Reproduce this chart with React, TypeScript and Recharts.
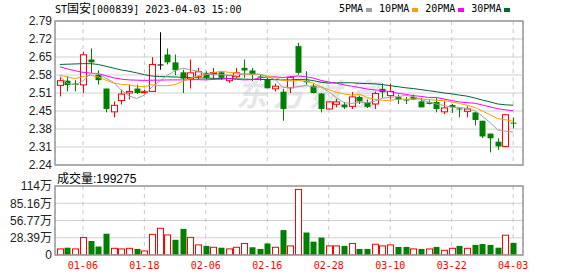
import React from "react";
import {
  ComposedChart,
  BarChart,
  Bar,
  Line,
  XAxis,
  YAxis,
  CartesianGrid,
} from "recharts";

const dates = [
  "01-03", "01-04", "01-05", "01-06", "01-09", "01-10", "01-11", "01-12", "01-13", "01-16",
  "01-17", "01-18", "01-19", "01-20", "01-30", "01-31", "02-01", "02-02", "02-03", "02-06",
  "02-07", "02-08", "02-09", "02-10", "02-13", "02-14", "02-15", "02-16", "02-17", "02-20",
  "02-21", "02-22", "02-23", "02-24", "02-27", "02-28", "03-01", "03-02", "03-03", "03-06",
  "03-07", "03-08", "03-09", "03-10", "03-13", "03-14", "03-15", "03-16", "03-17", "03-20",
  "03-21", "03-22", "03-23", "03-24", "03-27", "03-28", "03-29", "03-30", "03-31", "04-03",
];

const opens = [
  2.544, 2.562, 2.551, 2.546, 2.643, 2.585, 2.532, 2.443, 2.486, 2.515,
  2.532, 2.517, 2.521, 2.624, 2.662, 2.632, 2.594, 2.569, 2.579, 2.592,
  2.589, 2.594, 2.562, 2.577, 2.611, 2.601, 2.578, 2.569, 2.531, 2.52,
  2.535, 2.694, 2.562, 2.543, 2.513, 2.454, 2.472, 2.471, 2.464, 2.5,
  2.479, 2.473, 2.531, 2.505, 2.499, 2.49, 2.5, 2.483, 2.479, 2.481,
  2.443, 2.469, 2.456, 2.445, 2.441, 2.409, 2.36, 2.329, 2.311, 2.402,
];
const highs = [
  2.575, 2.579, 2.564, 2.673, 2.685, 2.601, 2.532, 2.483, 2.528, 2.547,
  2.547, 2.528, 2.652, 2.747, 2.685, 2.662, 2.604, 2.643, 2.611, 2.598,
  2.611, 2.598, 2.582, 2.611, 2.643, 2.611, 2.583, 2.572, 2.551, 2.531,
  2.58, 2.707, 2.598, 2.551, 2.515, 2.483, 2.492, 2.481, 2.519, 2.505,
  2.49, 2.521, 2.551, 2.551, 2.509, 2.5, 2.509, 2.496, 2.487, 2.496,
  2.483, 2.473, 2.457, 2.464, 2.443, 2.409, 2.36, 2.342, 2.433, 2.421,
];
const lows = [
  2.502, 2.521, 2.521, 2.515, 2.592, 2.547, 2.441, 2.422, 2.471, 2.49,
  2.511, 2.513, 2.521, 2.604, 2.624, 2.583, 2.515, 2.532, 2.566, 2.566,
  2.566, 2.564, 2.554, 2.573, 2.573, 2.56, 2.562, 2.533, 2.521, 2.409,
  2.515, 2.585, 2.547, 2.513, 2.441, 2.452, 2.46, 2.454, 2.454, 2.473,
  2.458, 2.454, 2.496, 2.49, 2.473, 2.473, 2.488, 2.46, 2.471, 2.441,
  2.434, 2.439, 2.422, 2.422, 2.391, 2.343, 2.288, 2.298, 2.31, 2.38,
];
const closes = [
  2.562, 2.545, 2.546, 2.661, 2.632, 2.564, 2.454, 2.468, 2.511, 2.521,
  2.515, 2.52, 2.624, 2.624, 2.632, 2.602, 2.57, 2.592, 2.596, 2.573,
  2.593, 2.573, 2.582, 2.592, 2.601, 2.585, 2.574, 2.533, 2.541, 2.454,
  2.575, 2.592, 2.556, 2.515, 2.454, 2.481, 2.481, 2.46, 2.5, 2.483,
  2.462, 2.513, 2.518, 2.521, 2.49, 2.487, 2.49, 2.46, 2.473, 2.454,
  2.458, 2.46, 2.454, 2.454, 2.412, 2.349, 2.342, 2.311, 2.432, 2.398,
];

// 成交量, 单位: 万
const volumes = [
  10, 12, 10, 28.7, 23, 14, 35, 11, 10, 11,
  10, 6.6, 34, 44, 33, 25, 43, 29, 16.6, 15,
  12.7, 12, 10, 12.7, 19, 12.7, 10, 19, 12.7, 41,
  15, 108, 37, 22, 28.7, 15, 15, 15, 19, 10,
  10, 17.7, 15, 16.6, 13.3, 13.3, 10, 10, 10, 13.3,
  7.7, 11, 15, 11, 16.6, 18, 16.6, 12, 32.6, 19.93,
];

const ma5 = [
  2.579, 2.551, 2.547, 2.56, 2.589, 2.589, 2.571, 2.556, 2.526, 2.504,
  2.494, 2.507, 2.538, 2.561, 2.583, 2.6, 2.61, 2.604, 2.598, 2.587,
  2.585, 2.585, 2.583, 2.583, 2.588, 2.587, 2.587, 2.577, 2.567, 2.537,
  2.535, 2.539, 2.544, 2.538, 2.538, 2.52, 2.497, 2.478, 2.475, 2.481,
  2.477, 2.484, 2.495, 2.499, 2.501, 2.506, 2.501, 2.49, 2.48, 2.473,
  2.467, 2.461, 2.46, 2.456, 2.448, 2.426, 2.402, 2.374, 2.369, 2.366,
];
const ma10 = [
  2.583, 2.576, 2.57, 2.578, 2.583, 2.576, 2.564, 2.553, 2.548, 2.546,
  2.541, 2.539, 2.547, 2.543, 2.543, 2.547, 2.559, 2.571, 2.58, 2.585,
  2.593, 2.598, 2.594, 2.591, 2.587, 2.586, 2.586, 2.58, 2.575, 2.563,
  2.561, 2.563, 2.56, 2.553, 2.538, 2.528, 2.518, 2.511, 2.507, 2.51,
  2.498, 2.491, 2.487, 2.487, 2.491, 2.492, 2.492, 2.492, 2.49, 2.487,
  2.486, 2.481, 2.475, 2.468, 2.46, 2.446, 2.432, 2.417, 2.413, 2.407,
];
const ma20 = [
  2.615, 2.607, 2.6, 2.594, 2.591, 2.589, 2.581, 2.573, 2.568, 2.565,
  2.564, 2.563, 2.564, 2.564, 2.565, 2.565, 2.565, 2.566, 2.566, 2.565,
  2.567, 2.568, 2.57, 2.567, 2.565, 2.566, 2.572, 2.576, 2.577, 2.574,
  2.577, 2.58, 2.577, 2.572, 2.563, 2.557, 2.552, 2.546, 2.541, 2.536,
  2.53, 2.527, 2.524, 2.52, 2.514, 2.51, 2.505, 2.502, 2.498, 2.498,
  2.492, 2.486, 2.481, 2.478, 2.476, 2.469, 2.462, 2.455, 2.451, 2.447,
];
const ma30 = [
  2.624, 2.625, 2.626, 2.627, 2.627, 2.624, 2.617, 2.61, 2.603, 2.598,
  2.592, 2.585, 2.58, 2.578, 2.577, 2.576, 2.575, 2.574, 2.573, 2.572,
  2.571, 2.57, 2.57, 2.569, 2.568, 2.567, 2.567, 2.566, 2.566, 2.565,
  2.565, 2.567, 2.567, 2.562, 2.556, 2.553, 2.554, 2.554, 2.554, 2.552,
  2.551, 2.55, 2.547, 2.543, 2.539, 2.535, 2.532, 2.528, 2.524, 2.52,
  2.515, 2.512, 2.507, 2.503, 2.496, 2.488, 2.481, 2.473, 2.47, 2.468,
];

const dateTicks = ["01-06", "01-18", "02-06", "02-16", "02-28", "03-10", "03-22", "04-03"];
const priceTickLabels = ["2.24", "2.31", "2.38", "2.45", "2.51", "2.58", "2.65", "2.72", "2.79"];
const volTickLabels = ["0", "28.39万", "56.77万", "85.16万", "114万"];

const PRICE_MIN = 2.24;
const PRICE_MAX = 2.79;
const VOL_MAX = 113.55;
const priceTicks = priceTickLabels.map((_, i) => PRICE_MIN + (i * (PRICE_MAX - PRICE_MIN)) / 8);
const volTicks = volTickLabels.map((_, i) => (i * VOL_MAX) / 4);

const RED = "#ff0000";
const GREEN = "#008000";
const MA_COLORS = { ma5: "#a0a0a0", ma10: "#f5a300", ma20: "#ff00ff", ma30: "#006633" };

const data = dates.map((date, i) => ({
  date,
  open: opens[i],
  high: highs[i],
  low: lows[i],
  close: closes[i],
  vol: volumes[i],
  volUp: i === 0 || closes[i] >= closes[i - 1],
  ma5: ma5[i],
  ma10: ma10[i],
  ma20: ma20[i],
  ma30: ma30[i],
}));

const W = 578;
const PLOT_LEFT = 55;
const PLOT_RIGHT_GAP = 55;
const xPadding = { left: 1, right: 6 };
const axisFont = "'Liberation Sans', Arial, 'Noto Sans CJK SC', sans-serif";
const monoFont = "'DejaVu Sans Mono', 'Noto Sans CJK SC', monospace";

function Candle(props: any) {
  const { x, y, width, height, payload } = props;
  const { open, close, high, low } = payload;
  const top = Math.min(y, y + height);
  const h = Math.abs(height);
  const per = h / (high - low);
  const yOf = (v: number) => top + (high - v) * per;
  const cx = Math.round(x + width / 2) + 0.5;
  const bodyTop = yOf(Math.max(open, close));
  const bodyBot = yOf(Math.min(open, close));
  if (close > open) {
    return (
      <g>
        <line x1={cx} x2={cx} y1={top} y2={bodyTop} stroke={RED} />
        <line x1={cx} x2={cx} y1={bodyBot} y2={top + h} stroke={RED} />
        <rect x={cx - 3} y={bodyTop} width={6} height={Math.max(bodyBot - bodyTop, 1)} fill="#fff" stroke={RED} />
      </g>
    );
  }
  const color = close < open ? GREEN : "#000";
  return (
    <g>
      <line x1={cx} x2={cx} y1={top} y2={top + h} stroke={color} />
      <rect x={cx - 3} y={bodyTop} width={6} height={Math.max(bodyBot - bodyTop, 1)} fill={color} />
    </g>
  );
}

function VolBar(props: any) {
  const { x, y, width, height, payload } = props;
  const cx = Math.round(x + width / 2) + 0.5;
  if (payload.volUp) {
    return <rect x={cx - 3} y={y} width={6} height={height} fill="#fff" stroke={RED} />;
  }
  return <rect x={cx - 3} y={y} width={6} height={height} fill={GREEN} />;
}

function Legend() {
  const items = [
    { name: "5PMA", color: MA_COLORS.ma5 },
    { name: "10PMA", color: MA_COLORS.ma10 },
    { name: "20PMA", color: MA_COLORS.ma20 },
    { name: "30PMA", color: MA_COLORS.ma30 },
  ];
  return (
    <div style={{ position: "absolute", left: 339, top: 2, display: "flex", fontFamily: monoFont, fontSize: 10, lineHeight: "14px", color: "#000" }}>
      {items.map((it) => (
        <div key={it.name} style={{ display: "flex", alignItems: "center", marginRight: 7 }}>
          <span>{it.name}</span>
          <span style={{ display: "inline-block", width: 6, height: 4, marginLeft: 3, marginTop: 2, background: it.color }} />
        </div>
      ))}
    </div>
  );
}

export default function App() {
  return (
    <div style={{ position: "absolute", left: 0, top: 0, width: W, height: 276, background: "#fff", overflow: "hidden" }}>
      {/* watermark */}
      <div style={{ position: "absolute", left: 236, top: 70, fontSize: 31, fontWeight: 700, letterSpacing: 6, color: "#e6e6ea", fontFamily: "'Noto Sans CJK SC', sans-serif", fontStyle: "italic" }}>
        东方财富
      </div>

      <div style={{ position: "absolute", left: 55, top: 2, fontFamily: monoFont, fontSize: 10, lineHeight: "14px", color: "#000", whiteSpace: "pre" }}>
        ST<span style={{ fontSize: 12 }}>国安</span>[000839] 2023-04-03 15:00
      </div>
      <Legend />

      <div style={{ position: "absolute", left: 57, top: 169, fontFamily: axisFont, fontSize: 12, color: "#000" }}>
        成交量:199275
      </div>

      <div style={{ position: "absolute", left: 0, top: 0 }}>
        <BarChart width={W} height={276} data={data} margin={{ top: 186, right: PLOT_RIGHT_GAP, bottom: 0, left: 0 }}>
          <CartesianGrid vertical={false} stroke="#d0d0d0" />
          <CartesianGrid horizontal={false} stroke="#c8c8c8" strokeDasharray="4 4" />
          <XAxis
            dataKey="date"
            ticks={dateTicks}
            interval={0}
            height={21}
            padding={xPadding}
            axisLine={false}
            tickLine={false}
            tickSize={0}
            tickMargin={7}
            tick={{ fill: RED, fontSize: 10, fontFamily: monoFont }}
          />
          <YAxis
            width={PLOT_LEFT}
            domain={[0, VOL_MAX]}
            ticks={volTicks}
            interval={0}
            allowDataOverflow
            axisLine={false}
            tickLine={false}
            tickSize={0}
            tickMargin={3}
            tickFormatter={(_v: number, i: number) => volTickLabels[i]}
            tick={{ fill: "#222", fontSize: 12, fontFamily: axisFont }}
          />
          <Bar dataKey="vol" shape={<VolBar />} isAnimationActive={false} />
        </BarChart>
      </div>

      <div style={{ position: "absolute", left: 0, top: 0 }}>
        <ComposedChart width={W} height={180} data={data} margin={{ top: 21, right: PLOT_RIGHT_GAP, bottom: 15, left: 0 }}>
          <CartesianGrid vertical={false} stroke="#d0d0d0" />
          <CartesianGrid horizontal={false} stroke="#c8c8c8" strokeDasharray="4 4" />
          <XAxis dataKey="date" ticks={dateTicks} interval={0} padding={xPadding} hide />
          <YAxis
            width={PLOT_LEFT}
            domain={[PRICE_MIN, PRICE_MAX]}
            ticks={priceTicks}
            interval={0}
            allowDataOverflow
            axisLine={false}
            tickLine={false}
            tickSize={0}
            tickMargin={3}
            tickFormatter={(_v: number, i: number) => priceTickLabels[i]}
            tick={{ fill: "#222", fontSize: 12, fontFamily: axisFont }}
          />
          <Bar dataKey={(d: any) => [d.low, d.high]} shape={<Candle />} isAnimationActive={false} />
          <Line dataKey="ma30" stroke={MA_COLORS.ma30} strokeWidth={1} dot={false} activeDot={false} isAnimationActive={false} />
          <Line dataKey="ma20" stroke={MA_COLORS.ma20} strokeWidth={1} dot={false} activeDot={false} isAnimationActive={false} />
          <Line dataKey="ma10" stroke={MA_COLORS.ma10} strokeWidth={1} dot={false} activeDot={false} isAnimationActive={false} />
          <Line dataKey="ma5" stroke={MA_COLORS.ma5} strokeWidth={1} dot={false} activeDot={false} isAnimationActive={false} />
        </ComposedChart>
      </div>

      {/* panel frames */}
      <svg width={W} height={276} style={{ position: "absolute", left: 0, top: 0, pointerEvents: "none" }}>
        <rect x={55} y={21} width={468} height={144} fill="none" stroke="#999" strokeWidth={1.5} />
        <rect x={55} y={186} width={468} height={69} fill="none" stroke="#999" strokeWidth={1.5} />
      </svg>
    </div>
  );
}
